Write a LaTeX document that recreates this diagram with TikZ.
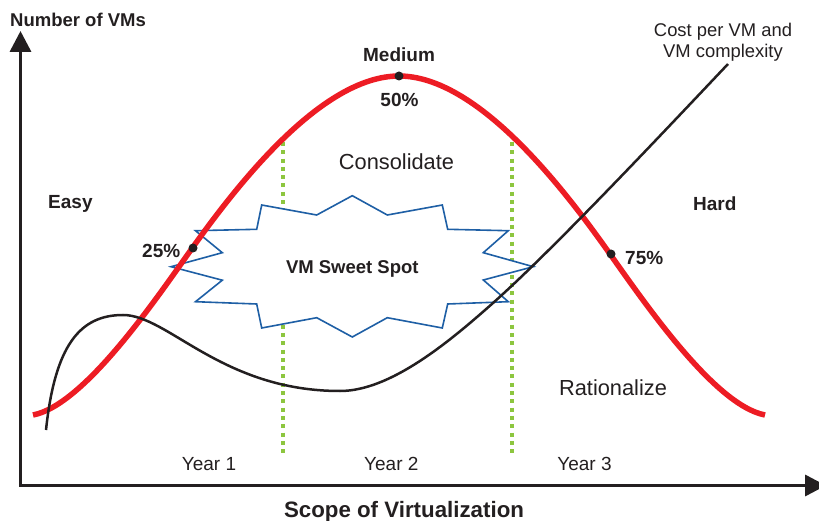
\documentclass[tikz,border=0pt]{standalone}
\usepackage{fontspec}
\setmainfont{Liberation Sans}
\usetikzlibrary{arrows.meta}
\definecolor{txt}{RGB}{35,31,32}
\definecolor{curvered}{RGB}{237,28,36}
\definecolor{burstblue}{RGB}{30,95,165}
\definecolor{yeargreen}{RGB}{141,198,63}
\begin{document}
\begin{tikzpicture}[x=1pt,y=-1pt,
  lbl/.style={text=txt, inner sep=0pt, anchor=base, font=\fontsize{19}{22}\selectfont},
  blbl/.style={text=txt, inner sep=0pt, anchor=base, font=\fontsize{19}{22}\selectfont\bfseries},
  biglbl/.style={text=txt, inner sep=0pt, anchor=base, font=\fontsize{21.8}{24}\selectfont},
  axisline/.style={line width=3.5pt, draw=txt, {Triangle[length=21pt,width=21pt]}-{Triangle[length=21pt,width=21pt]}},
  yearline/.style={draw=yeargreen, line width=3.8pt, dash pattern=on 4pt off 4.3pt},
  burst/.style={draw=burstblue, fill=white, line width=1.6pt, line join=miter},
  redcurve/.style={draw=curvered, line width=5.5pt},
  blackcurve/.style={draw=txt, line width=2.5pt},
  dot/.style={circle, fill=txt, inner sep=0pt, minimum size=9pt}
]
\useasboundingbox (0,0) rectangle (819,521);

% axes
\coordinate (O) at (20.5,485.5);
\coordinate (ytip) at (20.5,31);
\coordinate (xtip) at (826,485.5);
\draw[axisline] (ytip) -- (O) -- (xtip);

% year separators
\coordinate (g1t) at (283,142);
\coordinate (g1b) at (283,453);
\coordinate (g2t) at (512,142);
\coordinate (g2b) at (512,453);
\draw[yearline] (g1t) -- (g1b);
\draw[yearline] (g2t) -- (g2b);

% sweet spot burst
\draw[burst] (261.7,205) -- (316.7,215) -- (352.3,195.7) -- (387.3,215) -- (442.3,205)
  -- (447.7,229.3) -- (508.3,230.7) -- (483.3,252.7) -- (533.3,266.7) -- (483.3,280)
  -- (508.3,301.7) -- (447.7,304) -- (442.3,328) -- (387.3,317.7) -- (352.3,337)
  -- (316.7,317.7) -- (261.7,328) -- (256.7,304) -- (195.5,301.7) -- (222.3,280.2)
  -- (171,266.7) -- (222.3,252.7) -- (195.5,230.7) -- (256.7,229.3) -- cycle;

% number of VMs curve
\coordinate (r0) at (33,415);
\coordinate (r1) at (193,247);
\coordinate (r2) at (399,76);
\coordinate (r3) at (605,247);
\coordinate (r4) at (765,415);
\draw[redcurve] (r0) .. controls (85,405) and (158,296) .. (r1)
  .. controls (233.6,190.3) and (320,76) .. (r2)
  .. controls (478,76) and (564.4,190.3) .. (r3)
  .. controls (640,296) and (713,405) .. (r4);

% cost curve
\coordinate (k0) at (46,430);
\coordinate (k1) at (123,315);
\coordinate (k2) at (340,391);
\coordinate (k3) at (493,303);
\coordinate (k4) at (728,64);
\draw[blackcurve] (k0) .. controls (55,345) and (80,315) .. (k1)
  .. controls (168,315) and (222,391) .. (k2)
  .. controls (390,391) and (448,343) .. (k3)
  .. controls (553,249.6) and (658,138) .. (k4);

% markers
\node[dot] (d25) at (193,248) {};
\node[dot] (d50) at (399,76) {};
\node[dot] (d75) at (611,254) {};

% labels
\node[blbl, anchor=base west, font=\fontsize{18.5}{22}\selectfont\bfseries] (ylab) at (10,27) {Number of VMs};
\node[text=txt, inner sep=0pt, anchor=north, align=center, font=\fontsize{18.4}{21}\selectfont] (cost) at (723,22.5) {Cost per VM and\\VM complexity};
\node[blbl] (medium) at (399,62) {Medium};
\node[blbl] (p50) at (399.5,107) {50\%};
\node[biglbl] (cons) at (396.5,170) {Consolidate};
\node[blbl, anchor=base west] (easy) at (48,209) {Easy};
\node[blbl, anchor=base west] (hard) at (693,211) {Hard};
\node[blbl, anchor=base west] (p25) at (142,258) {25\%};
\node[blbl, anchor=base west] (p75) at (625,265) {75\%};
\node[blbl, font=\fontsize{18.5}{22}\selectfont\bfseries] (sweet) at (352.3,273) {VM Sweet Spot};
\node[biglbl] (rat) at (613,395) {Rationalize};
\node[lbl] (y1) at (209,470) {Year 1};
\node[lbl] (y2) at (391.3,470) {Year 2};
\node[lbl] (y3) at (584.5,470) {Year 3};
\node[blbl, font=\fontsize{22.3}{26}\selectfont\bfseries] (xlab) at (404,517) {Scope of Virtualization};
\end{tikzpicture}
\end{document}
